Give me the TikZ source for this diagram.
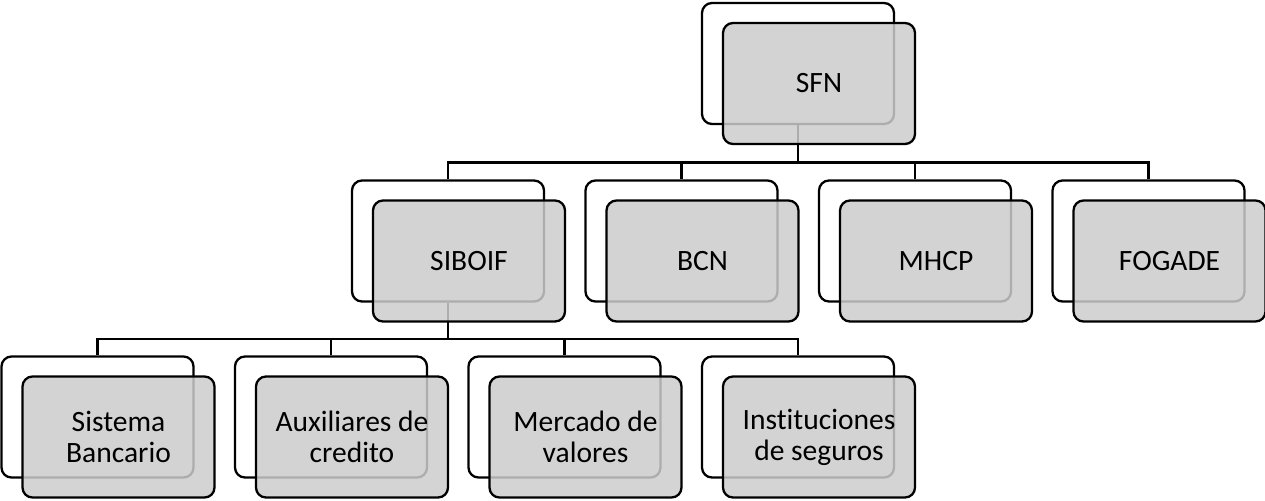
\documentclass[tikz,border=0pt]{standalone}
\usepackage{fontspec}
\setmainfont{Carlito}[Ligatures=NoCommon]
\usetikzlibrary{calc}

\tikzset{
  back/.style={draw,line width=1.3pt,rounded corners=2mm,fill=white,
    minimum width=38.4mm,minimum height=24.2mm,inner sep=0pt},
  front/.style={back,fill=black!20,fill opacity=0.85,text opacity=1,
    align=center,font=\fontsize{16.8}{17.6}\selectfont},
  link/.style={draw,line width=1.3pt}
}

\begin{document}
\begin{tikzpicture}[x=0.2mm,y=-0.2mm]
\useasboundingbox (0,0) rectangle (1265,500);

\node[back] (sfnB) at (798,63.5) {};
\node[back] (siboifB) at (448,241) {};
\node[back] (bcnB) at (681.5,241) {};
\node[back] (mhcpB) at (915,241) {};
\node[back] (fogadeB) at (1148.5,241) {};
\node[back] (bancB) at (97.5,417) {};
\node[back] (auxB) at (331,417) {};
\node[back] (mercB) at (564.5,417) {};
\node[back] (segB) at (798,417) {};

\coordinate (busA) at (798,162.5);
\coordinate (busB) at (448,339);

\draw[link] (sfnB.south) -- (busA);
\draw[link] (siboifB.north) |- (busA) -| (fogadeB.north);
\draw[link] (bcnB.north) -- (bcnB.north |- busA);
\draw[link] (mhcpB.north) -- (mhcpB.north |- busA);

\draw[link] (siboifB.south) -- (busB);
\draw[link] (bancB.north) |- (busB) -| (segB.north);
\draw[link] (auxB.north) -- (auxB.north |- busB);
\draw[link] (mercB.north) -- (mercB.north |- busB);

\node[front] (sfn) at ($(sfnB)+(21,20)$) {SFN};
\node[front] (siboif) at ($(siboifB)+(21,20)$) {SIBOIF};
\node[front] (bcn) at ($(bcnB)+(21,20)$) {BCN};
\node[front] (mhcp) at ($(mhcpB)+(21,20)$) {MHCP};
\node[front] (fogade) at ($(fogadeB)+(21,20)$) {FOGADE};
\node[front] (banc) at ($(bancB)+(21,20)$) {Sistema\\Bancario};
\node[front] (aux) at ($(auxB)+(21,20)$) {Auxiliares de\\credito};
\node[front] (merc) at ($(mercB)+(21,20)$) {Mercado de\\valores};
\node[front] (seg) at ($(segB)+(21,20)$) {Instituciones\\de seguros};

\end{tikzpicture}
\end{document}
